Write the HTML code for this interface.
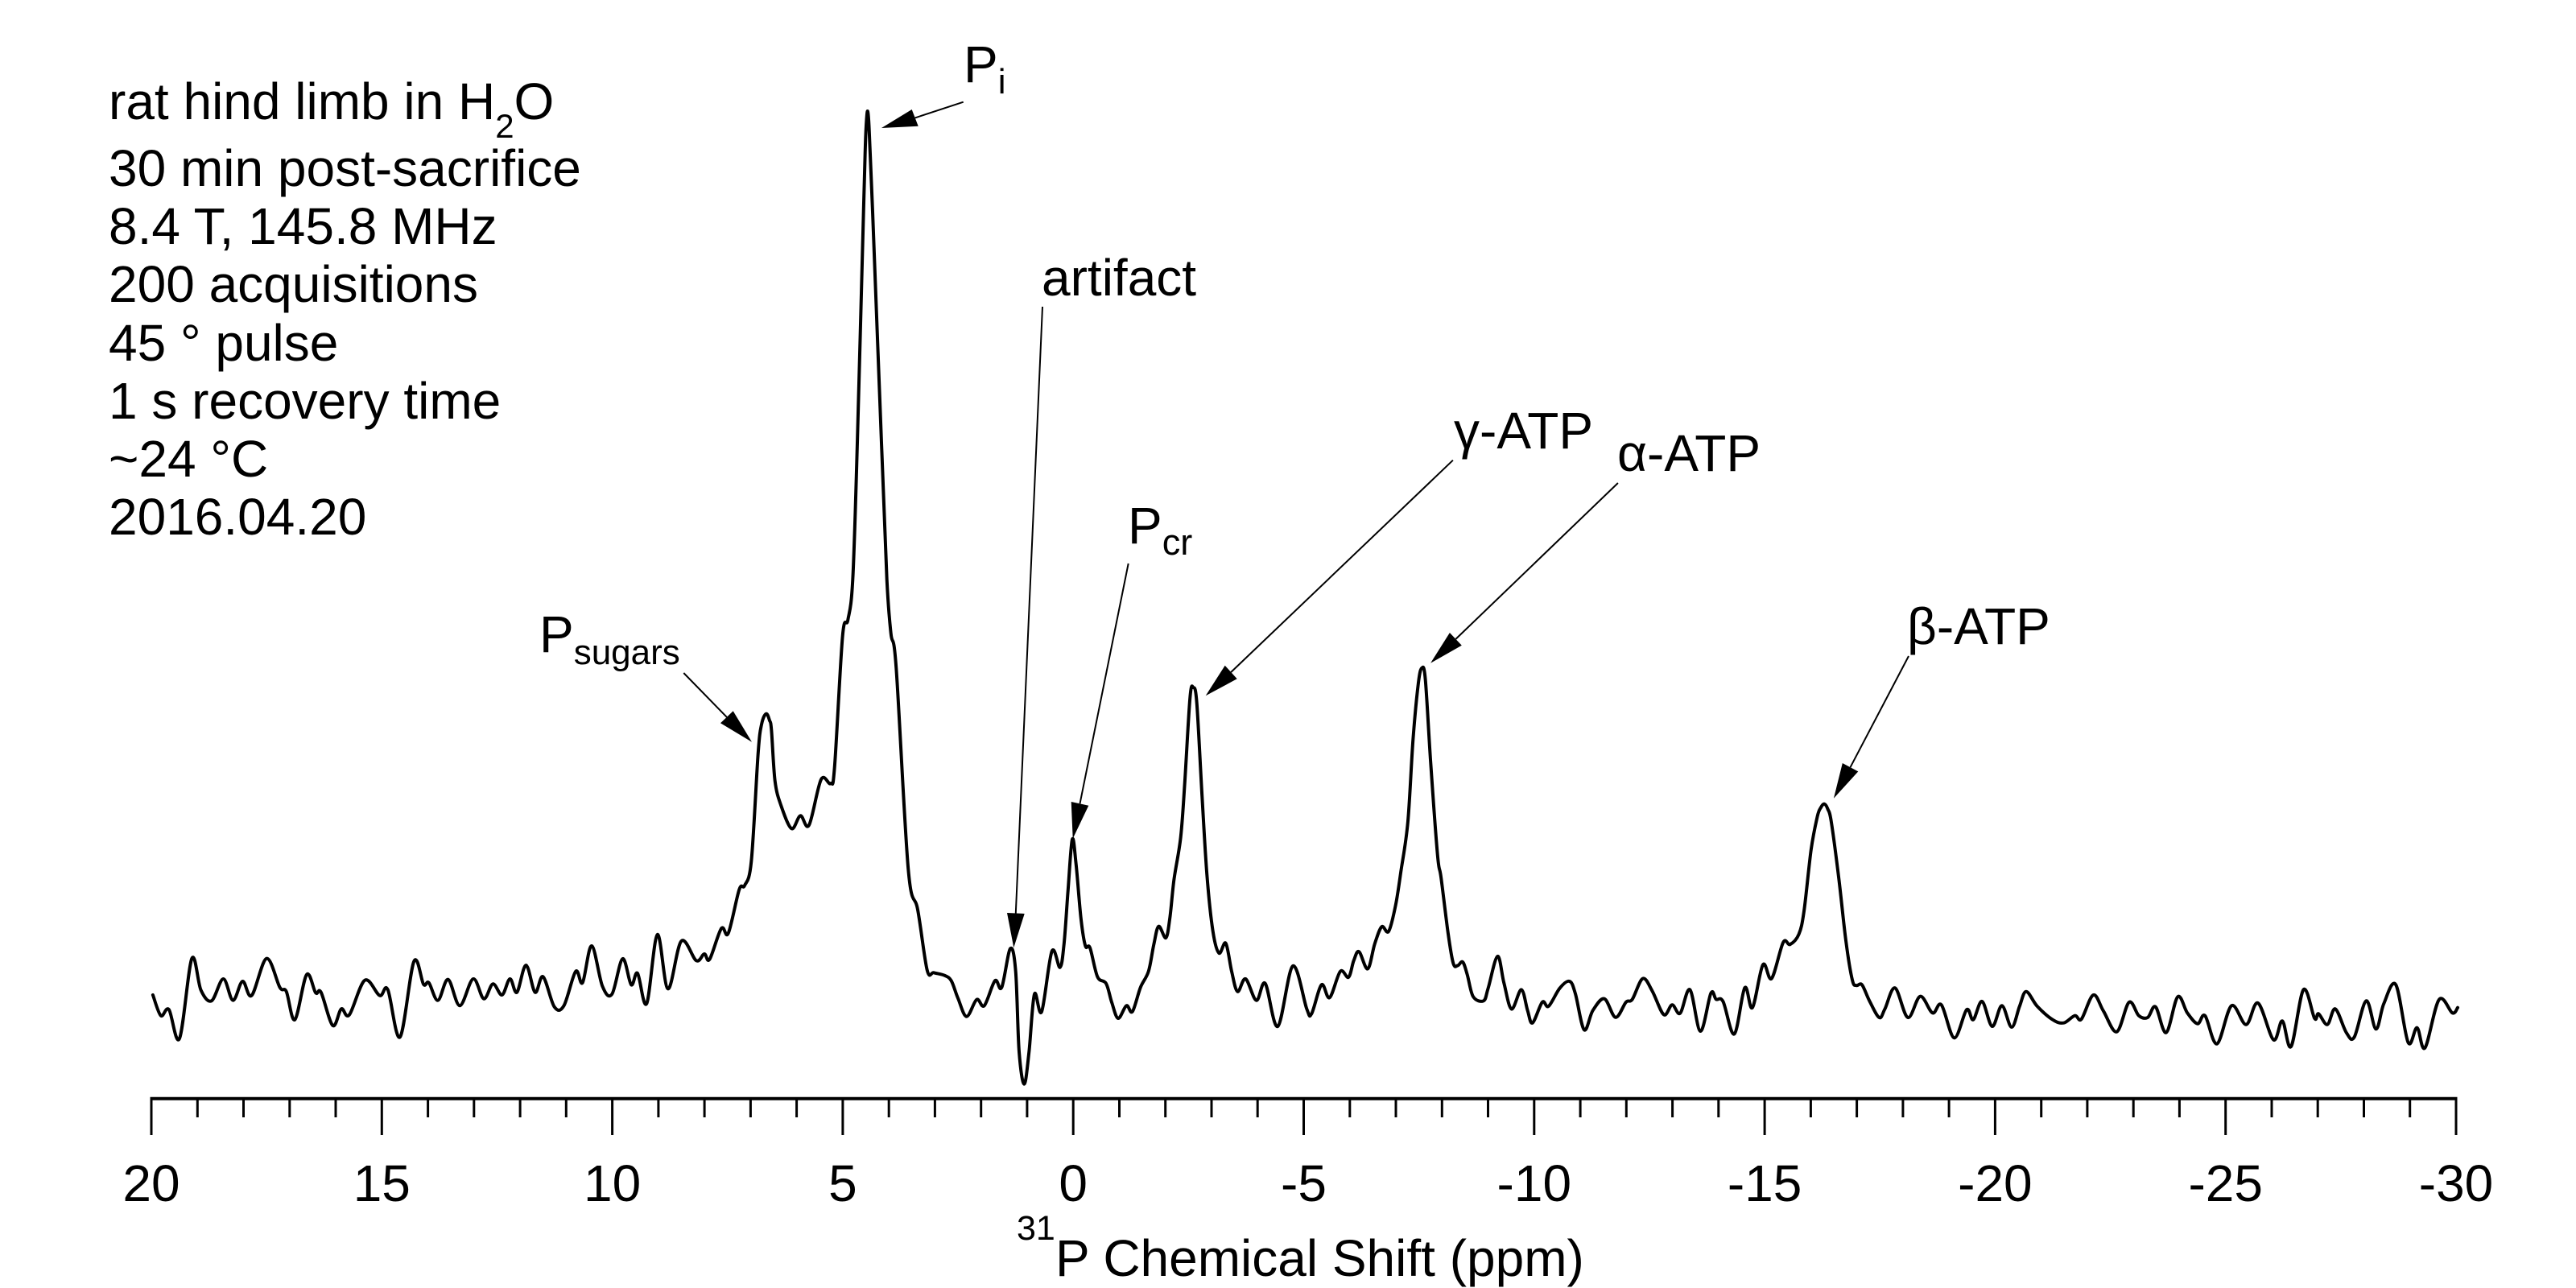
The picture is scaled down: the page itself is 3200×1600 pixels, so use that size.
<!DOCTYPE html>
<html>
<head>
<meta charset="utf-8">
<style>
html,body{margin:0;padding:0;background:#fff;}
svg{display:block;}
text{font-family:"Liberation Sans",Arial,sans-serif;fill:#000;}
</style>
</head>
<body>
<svg width="3200" height="1600" viewBox="0 0 3200 1600" xmlns="http://www.w3.org/2000/svg">
<rect width="3200" height="1600" fill="#fff"/>

<g font-size="64">
<text x="135" y="148">rat hind limb in H<tspan font-size="42" dy="23">2</tspan><tspan dy="-23">O</tspan></text>
<text x="135" y="231">30 min post-sacrifice</text>
<text x="135" y="303">8.4 T, 145.8 MHz</text>
<text x="135" y="375">200 acquisitions</text>
<text x="135" y="448">45 ° pulse</text>
<text x="135" y="520">1 s recovery time</text>
<text x="135" y="592">~24 °C</text>
<text x="135" y="664">2016.04.20</text>
</g>

<g font-size="64">
<text x="1197" y="102">P<tspan font-size="44" dy="14">i</tspan></text>
<text x="1294" y="367">artifact</text>
<text x="670" y="810">P<tspan font-size="44" dy="15">sugars</tspan></text>
<text x="1401" y="675">P<tspan font-size="45" dy="14">cr</tspan></text>
<text x="1806" y="557">γ-ATP</text>
<text x="2009" y="585">α-ATP</text>
<text x="2369" y="800">β-ATP</text>
</g>

<g stroke="#000" stroke-width="2" fill="none">
<line x1="1196.7" y1="126.7" x2="1136.7" y2="146.4"/>
<line x1="849.3" y1="836" x2="902.8" y2="890.8"/>
<line x1="1295" y1="381" x2="1261.8" y2="1134.5"/>
<line x1="1401.7" y1="700" x2="1341.5" y2="998.3"/>
<line x1="1804.9" y1="571.7" x2="1529.2" y2="835"/>
<line x1="2009.9" y1="600" x2="1808.4" y2="793.9"/>
<line x1="2371" y1="815" x2="2298.5" y2="953.2"/>
</g>
<g fill="#000" stroke="none">
<polygon points="1095,159 1132.7,136 1140.7,156.7"/>
<polygon points="934,921.7 910.7,883.3 895,898.3"/>
<polygon points="1259.3,1177.3 1251,1134 1272.7,1135"/>
<polygon points="1332.7,1041.7 1330.7,996 1352.3,1000.7"/>
<polygon points="1497.7,864.3 1521.7,826.7 1536.7,843.3"/>
<polygon points="1777.1,823.7 1800.9,786 1815.8,801.7"/>
<polygon points="2277.9,991.8 2288.8,948 2308.3,958.4"/>
</g>

<polyline id="spec" fill="none" stroke="#000" stroke-width="4" stroke-linejoin="round" stroke-linecap="round" points="189.9,1236 199.8,1261.7 209.8,1254 223,1290 238.3,1190.7 249.6,1230 262.8,1243.3 277.4,1216 289.4,1242.7 301.3,1219 312.6,1236.7 331.1,1190.7 347.7,1226.7 355.7,1231.7 366.3,1266.7 380.9,1210.7 392.1,1233.3 398.8,1232.7 413.4,1274 424,1253.3 433.9,1260.7 453.2,1217.7 471.7,1236.7 481.7,1229.3 496.9,1288.3 514.2,1194.3 526.1,1222.7 532.7,1220.7 544,1242.7 556.6,1216.7 571.2,1249.3 587.8,1216 601,1240.7 612.3,1222.3 623.6,1236 633.5,1216 642.1,1232.7 653.4,1199 664.7,1232.7 674.6,1213.3 688.6,1250.7 700.5,1249.3 715.1,1206.7 723.7,1220.7 735,1175 748.3,1225 760.2,1235 773.4,1191 784.1,1223.3 792,1209 803.3,1246.7 816.6,1161 829.8,1228.3 846.4,1169 864.9,1193.3 874.9,1185 881.5,1191.7 896.1,1153.3 904.7,1159.3 918.3,1105 925,1100 933.3,1070 941.7,936.7 946,900 951.7,886.7 956,895 958.3,906.7 962.7,970 970,1000 983.3,1029.3 994.3,1013.3 1005,1025 1020,968.3 1031.7,973.3 1036.7,953.3 1046.7,790 1053.3,770 1059.3,720 1065,550 1072.7,263 1075,180 1076.5,148 1077.7,138 1079,148 1080.5,180 1084,263 1095,550 1101.7,720 1106.7,786.7 1113.3,830 1128.3,1080 1140,1130 1151.7,1205 1160,1208.3 1173.3,1211.7 1181.7,1218.3 1190,1240 1200.7,1262.7 1213.3,1241.7 1222.7,1249.3 1236,1218.3 1244.3,1226.7 1255,1178.3 1261.7,1206.7 1266,1306.7 1272.3,1346.7 1278.3,1306.7 1285,1235 1294,1256.7 1306.7,1181.7 1316.7,1201.7 1321.7,1173.3 1326.7,1106.7 1332,1042.7 1336.7,1073.3 1342.7,1140 1348.3,1175 1354,1177.3 1363.3,1213.3 1374,1221.7 1381,1245 1389,1265 1399.3,1249.3 1406.7,1256.7 1416.7,1226.7 1426.7,1206.7 1433.3,1173.3 1439.3,1150.7 1448.3,1165 1453.3,1140 1458.3,1093.3 1466.7,1040 1471.7,973.3 1478.3,866.7 1482.3,854 1486.7,873.3 1493.3,990 1499.3,1086.7 1506.7,1156.7 1514.3,1184 1522.7,1171.7 1530,1206.7 1537.3,1231.7 1547.3,1216 1560.7,1242.7 1571.7,1221.7 1587.3,1275 1606,1200 1623.3,1253.3 1629.3,1259.3 1641.7,1223.3 1651.7,1239.3 1665,1206.7 1675.2,1213.9 1681.7,1193.2 1688.2,1182.2 1699,1203.5 1707.7,1172.6 1716.4,1151.2 1725,1157 1733.7,1124.4 1740.2,1083 1748.9,1021 1755.4,917.7 1761.9,848.9 1766.2,829.9 1770.6,843.7 1777.1,945.3 1785.8,1062.4 1790.1,1089.9 1798.8,1158.8 1805.3,1196.7 1810.9,1199.4 1817,1195 1822.6,1210.4 1830,1238 1843,1243.2 1848.6,1227.7 1860.3,1188 1868.2,1220.8 1877.7,1253.5 1889.8,1229.4 1897.6,1255.2 1903.7,1270.7 1915.9,1244.9 1923.7,1250 1937.5,1227.7 1949.7,1219 1957,1234.5 1967.9,1279.3 1978.7,1255.2 1993,1240.7 2006.9,1263.8 2019.9,1244.9 2027.7,1241.4 2040.7,1215.6 2052.5,1231.1 2066.8,1260.4 2077.2,1248.3 2087.1,1258.7 2099.3,1229.4 2112.3,1281 2125.3,1233.9 2131.8,1241.4 2140.5,1244.2 2154.4,1284.5 2167.4,1227 2176.9,1251.8 2190,1198.4 2200.7,1215.6 2215.1,1170.8 2223.7,1173.2 2234.6,1160.5 2241.1,1131.2 2249.8,1055.5 2257.6,1014.2 2262,1003 2266.2,998.7 2270.5,1005 2274.9,1021 2284.5,1093.4 2293.1,1169.1 2301,1217.3 2306.1,1224.2 2313,1223.3 2322.3,1243.3 2334.4,1264 2341.5,1253.3 2354.1,1227.3 2370,1264 2385.4,1237.7 2400.7,1258.3 2411.7,1248.3 2427.6,1289.3 2443,1254.3 2451.2,1266.7 2462.2,1244 2474.8,1275 2486.8,1249.3 2498.9,1276 2508.8,1250 2517,1231.7 2530.7,1250 2549.9,1266.7 2563.6,1270.7 2577.4,1261.7 2585.6,1266 2600.4,1236 2613,1256 2629.5,1281.7 2644.8,1245 2656.9,1261.7 2667.9,1264 2677.7,1250.7 2690.9,1282.7 2705.2,1238.3 2717.2,1258.3 2729.8,1271.7 2739.2,1261.7 2754,1296.7 2772.1,1249.3 2790.2,1272.7 2805,1246 2824.2,1291.7 2835.2,1268.3 2846.1,1300 2861.5,1229.3 2875.2,1265 2880.2,1259.3 2891.1,1272.7 2901,1253.3 2914.7,1282.7 2924.6,1288.3 2939.4,1243.3 2951.5,1278.3 2961.3,1246.7 2976.2,1223.3 2991.5,1295 3002.5,1276.7 3012.4,1301.7 3029.9,1241.7 3046.4,1258.3 3053,1251.7"/>

<line x1="186.5" y1="1364.7" x2="3052.5" y2="1364.7" stroke="#000" stroke-width="4"/>
<g stroke="#000" stroke-width="3">
<line x1="188" y1="1364" x2="188" y2="1410"/>
<line x1="474.3" y1="1364" x2="474.3" y2="1410"/>
<line x1="760.6" y1="1364" x2="760.6" y2="1410"/>
<line x1="1046.9" y1="1364" x2="1046.9" y2="1410"/>
<line x1="1333.2" y1="1364" x2="1333.2" y2="1410"/>
<line x1="1619.5" y1="1364" x2="1619.5" y2="1410"/>
<line x1="1905.8" y1="1364" x2="1905.8" y2="1410"/>
<line x1="2192.1" y1="1364" x2="2192.1" y2="1410"/>
<line x1="2478.4" y1="1364" x2="2478.4" y2="1410"/>
<line x1="2764.7" y1="1364" x2="2764.7" y2="1410"/>
<line x1="3051" y1="1364" x2="3051" y2="1410"/>
<line x1="245.3" y1="1364" x2="245.3" y2="1388"/>
<line x1="302.5" y1="1364" x2="302.5" y2="1388"/>
<line x1="359.8" y1="1364" x2="359.8" y2="1388"/>
<line x1="417" y1="1364" x2="417" y2="1388"/>
<line x1="531.6" y1="1364" x2="531.6" y2="1388"/>
<line x1="588.8" y1="1364" x2="588.8" y2="1388"/>
<line x1="646.1" y1="1364" x2="646.1" y2="1388"/>
<line x1="703.3" y1="1364" x2="703.3" y2="1388"/>
<line x1="817.9" y1="1364" x2="817.9" y2="1388"/>
<line x1="875.1" y1="1364" x2="875.1" y2="1388"/>
<line x1="932.4" y1="1364" x2="932.4" y2="1388"/>
<line x1="989.6" y1="1364" x2="989.6" y2="1388"/>
<line x1="1104.2" y1="1364" x2="1104.2" y2="1388"/>
<line x1="1161.4" y1="1364" x2="1161.4" y2="1388"/>
<line x1="1218.7" y1="1364" x2="1218.7" y2="1388"/>
<line x1="1275.9" y1="1364" x2="1275.9" y2="1388"/>
<line x1="1390.5" y1="1364" x2="1390.5" y2="1388"/>
<line x1="1447.7" y1="1364" x2="1447.7" y2="1388"/>
<line x1="1505" y1="1364" x2="1505" y2="1388"/>
<line x1="1562.2" y1="1364" x2="1562.2" y2="1388"/>
<line x1="1676.8" y1="1364" x2="1676.8" y2="1388"/>
<line x1="1734" y1="1364" x2="1734" y2="1388"/>
<line x1="1791.3" y1="1364" x2="1791.3" y2="1388"/>
<line x1="1848.5" y1="1364" x2="1848.5" y2="1388"/>
<line x1="1963.1" y1="1364" x2="1963.1" y2="1388"/>
<line x1="2020.3" y1="1364" x2="2020.3" y2="1388"/>
<line x1="2077.6" y1="1364" x2="2077.6" y2="1388"/>
<line x1="2134.8" y1="1364" x2="2134.8" y2="1388"/>
<line x1="2249.4" y1="1364" x2="2249.4" y2="1388"/>
<line x1="2306.6" y1="1364" x2="2306.6" y2="1388"/>
<line x1="2363.9" y1="1364" x2="2363.9" y2="1388"/>
<line x1="2421.1" y1="1364" x2="2421.1" y2="1388"/>
<line x1="2535.7" y1="1364" x2="2535.7" y2="1388"/>
<line x1="2592.9" y1="1364" x2="2592.9" y2="1388"/>
<line x1="2650.2" y1="1364" x2="2650.2" y2="1388"/>
<line x1="2707.4" y1="1364" x2="2707.4" y2="1388"/>
<line x1="2822" y1="1364" x2="2822" y2="1388"/>
<line x1="2879.2" y1="1364" x2="2879.2" y2="1388"/>
<line x1="2936.5" y1="1364" x2="2936.5" y2="1388"/>
<line x1="2993.7" y1="1364" x2="2993.7" y2="1388"/>
</g>

<g font-size="64" text-anchor="middle">
<text x="188" y="1492">20</text>
<text x="474.3" y="1492">15</text>
<text x="760.6" y="1492">10</text>
<text x="1046.9" y="1492">5</text>
<text x="1333.2" y="1492">0</text>
<text x="1619.5" y="1492">-5</text>
<text x="1905.8" y="1492">-10</text>
<text x="2192.1" y="1492">-15</text>
<text x="2478.4" y="1492">-20</text>
<text x="2764.7" y="1492">-25</text>
<text x="3051" y="1492">-30</text>
</g>

<text x="1263" y="1540" font-size="43">31</text>
<text x="1311" y="1585" font-size="64">P Chemical Shift (ppm)</text>
</svg>
<script>
(function(){
  var pl = document.getElementById('spec');
  if (!pl) return;
  var raw = pl.getAttribute('points').trim().split(/\s+/);
  var p = raw.map(function(s){ var a = s.split(','); return [parseFloat(a[0]), parseFloat(a[1])]; });
  var n = p.length;
  if (n < 3) return;
  var d = 'M' + p[0][0] + ',' + p[0][1];
  for (var i = 0; i < n - 1; i++) {
    var p0 = p[i > 0 ? i - 1 : i], p1 = p[i], p2 = p[i + 1], p3 = p[i + 2 < n ? i + 2 : i + 1];
    var c1x = p1[0] + (p2[0] - p0[0]) / 6, c1y = p1[1] + (p2[1] - p0[1]) / 6;
    var c2x = p2[0] - (p3[0] - p1[0]) / 6, c2y = p2[1] - (p3[1] - p1[1]) / 6;
    d += ' C' + c1x.toFixed(1) + ',' + c1y.toFixed(1) + ' ' + c2x.toFixed(1) + ',' + c2y.toFixed(1) + ' ' + p2[0] + ',' + p2[1];
  }
  var ns = 'http://www.w3.org/2000/svg';
  var path = document.createElementNS(ns, 'path');
  path.setAttribute('d', d);
  path.setAttribute('fill', 'none');
  path.setAttribute('stroke', '#000');
  path.setAttribute('stroke-width', '4');
  path.setAttribute('stroke-linejoin', 'round');
  path.setAttribute('stroke-linecap', 'round');
  pl.parentNode.replaceChild(path, pl);
})();
</script>
</body>
</html>
